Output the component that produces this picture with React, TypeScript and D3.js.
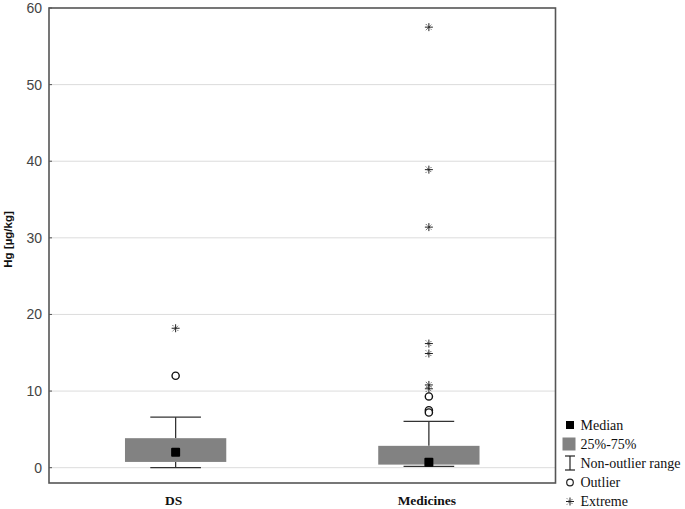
import React from "react";
import * as d3 from "d3";

const categories = ["DS", "Medicines"];
const q1 = [0.75, 0.4];
const q3 = [3.85, 2.85];
const medians = [2.0, 0.7];
const whiskerLow = [0.0, 0.17];
const whiskerHigh = [6.6, 6.05];
const outliers = [[12.0], [9.3, 7.5, 7.2]];
const extremes = [[18.2], [57.5, 38.9, 31.4, 16.2, 14.9, 10.8, 10.3]];
const yTicks = [0, 10, 20, 30, 40, 50, 60];
const legendLabels = ["Median", "25%-75%", "Non-outlier range", "Outlier", "Extreme"];

const W = 685, H = 509;
const left = 49, right = 555.5, top = 8, bottom = 483;

function Extreme({ x, y }: { x: number; y: number }) {
  const s = 4;
  return (
    <g stroke="#222" strokeWidth={1}>
      <line x1={x - s} x2={x + s} y1={y} y2={y} />
      <line x1={x} x2={x} y1={y - s} y2={y + s} />
      <line x1={x - s * 0.75} x2={x + s * 0.75} y1={y - s * 0.75} y2={y + s * 0.75} strokeDasharray="1,1.2" />
      <line x1={x - s * 0.75} x2={x + s * 0.75} y1={y + s * 0.75} y2={y - s * 0.75} strokeDasharray="1,1.2" />
    </g>
  );
}

export default function App() {
  const y = d3.scaleLinear().domain([-2, 60]).range([bottom, top]);
  const x = d3.scaleBand().domain(categories).range([left, right]);
  const bw = x.bandwidth();
  const boxW = bw * 0.4;
  const capW = bw * 0.2;
  const lx = 570;
  const ly = [425, 444, 463, 482.5, 501.5];
  return (
    <svg width={W} height={H} style={{ position: "absolute", left: 0, top: 0, background: "#fff" }}>
      {yTicks.map((t) => (
        <g key={t}>
          {t !== 60 && (
            <line x1={left} x2={right} y1={y(t)} y2={y(t)} stroke="#dcdcdc" strokeWidth={1} />
          )}
          <line x1={left} x2={left + 3} y1={y(t)} y2={y(t)} stroke="#555" strokeWidth={1} />
          <text x={42} y={y(t)} dy="0.35em" textAnchor="end" fontFamily="Liberation Sans, Arial, sans-serif" fontSize={14} fill="#444">
            {t}
          </text>
        </g>
      ))}
      <text
        transform={`translate(12,${(top + bottom) / 2 - 6}) rotate(-90)`}
        textAnchor="middle"
        fontFamily="Liberation Sans, Arial, sans-serif"
        fontWeight="bold"
        fontSize={11.5}
        fill="#111"
      >
        Hg [µg/kg]
      </text>
      {categories.map((c, i) => {
        const cx = (x(c) as number) + bw / 2;
        return (
          <g key={c}>
            <line x1={cx} x2={cx} y1={y(whiskerHigh[i])} y2={y(q3[i])} stroke="#333" strokeWidth={1.3} />
            <line x1={cx} x2={cx} y1={y(q1[i])} y2={y(whiskerLow[i])} stroke="#333" strokeWidth={1.3} />
            <line x1={cx - capW / 2} x2={cx + capW / 2} y1={y(whiskerHigh[i])} y2={y(whiskerHigh[i])} stroke="#333" strokeWidth={1.3} />
            <line x1={cx - capW / 2} x2={cx + capW / 2} y1={y(whiskerLow[i])} y2={y(whiskerLow[i])} stroke="#333" strokeWidth={1.3} />
            <rect x={cx - boxW / 2} y={y(q3[i])} width={boxW} height={y(q1[i]) - y(q3[i])} fill="#828282" />
            <rect x={cx - 4.5} y={y(medians[i]) - 4.5} width={9} height={9} fill="#000" rx={1} />
            {outliers[i].map((v, k) => (
              <circle key={k} cx={cx} cy={y(v)} r={3.6} fill="#fff" stroke="#111" strokeWidth={1.4} />
            ))}
            {extremes[i].map((v, k) => (
              <Extreme key={k} x={cx} y={y(v)} />
            ))}
            <text x={cx - 2} y={505} textAnchor="middle" fontFamily="Liberation Serif, Times New Roman, serif" fontWeight="bold" fontSize={13.5} fill="#111">
              {c}
            </text>
          </g>
        );
      })}
      <rect x={left} y={top} width={right - left} height={bottom - top} fill="none" stroke="#555" strokeWidth={1.6} />
      {/* legend */}
      <rect x={lx - 4} y={ly[0] - 4} width={8} height={8} fill="#000" />
      <rect x={lx - 7.5} y={ly[1] - 6.5} width={13} height={13} fill="#828282" />
      <g stroke="#222" strokeWidth={1.2}>
        <line x1={lx} x2={lx} y1={ly[2] - 7} y2={ly[2] + 7} />
        <line x1={lx - 5} x2={lx + 5} y1={ly[2] - 7} y2={ly[2] - 7} />
        <line x1={lx - 5} x2={lx + 5} y1={ly[2] + 7} y2={ly[2] + 7} />
      </g>
      <circle cx={lx} cy={ly[3]} r={3.3} fill="#fff" stroke="#222" strokeWidth={1.2} />
      <Extreme x={lx} y={ly[4]} />
      {legendLabels.map((l, i) => (
        <text key={l} x={580.5} y={ly[i]} dy="0.35em" fontFamily="Liberation Serif, Times New Roman, serif" fontSize={14} fill="#111">
          {l}
        </text>
      ))}
    </svg>
  );
}
